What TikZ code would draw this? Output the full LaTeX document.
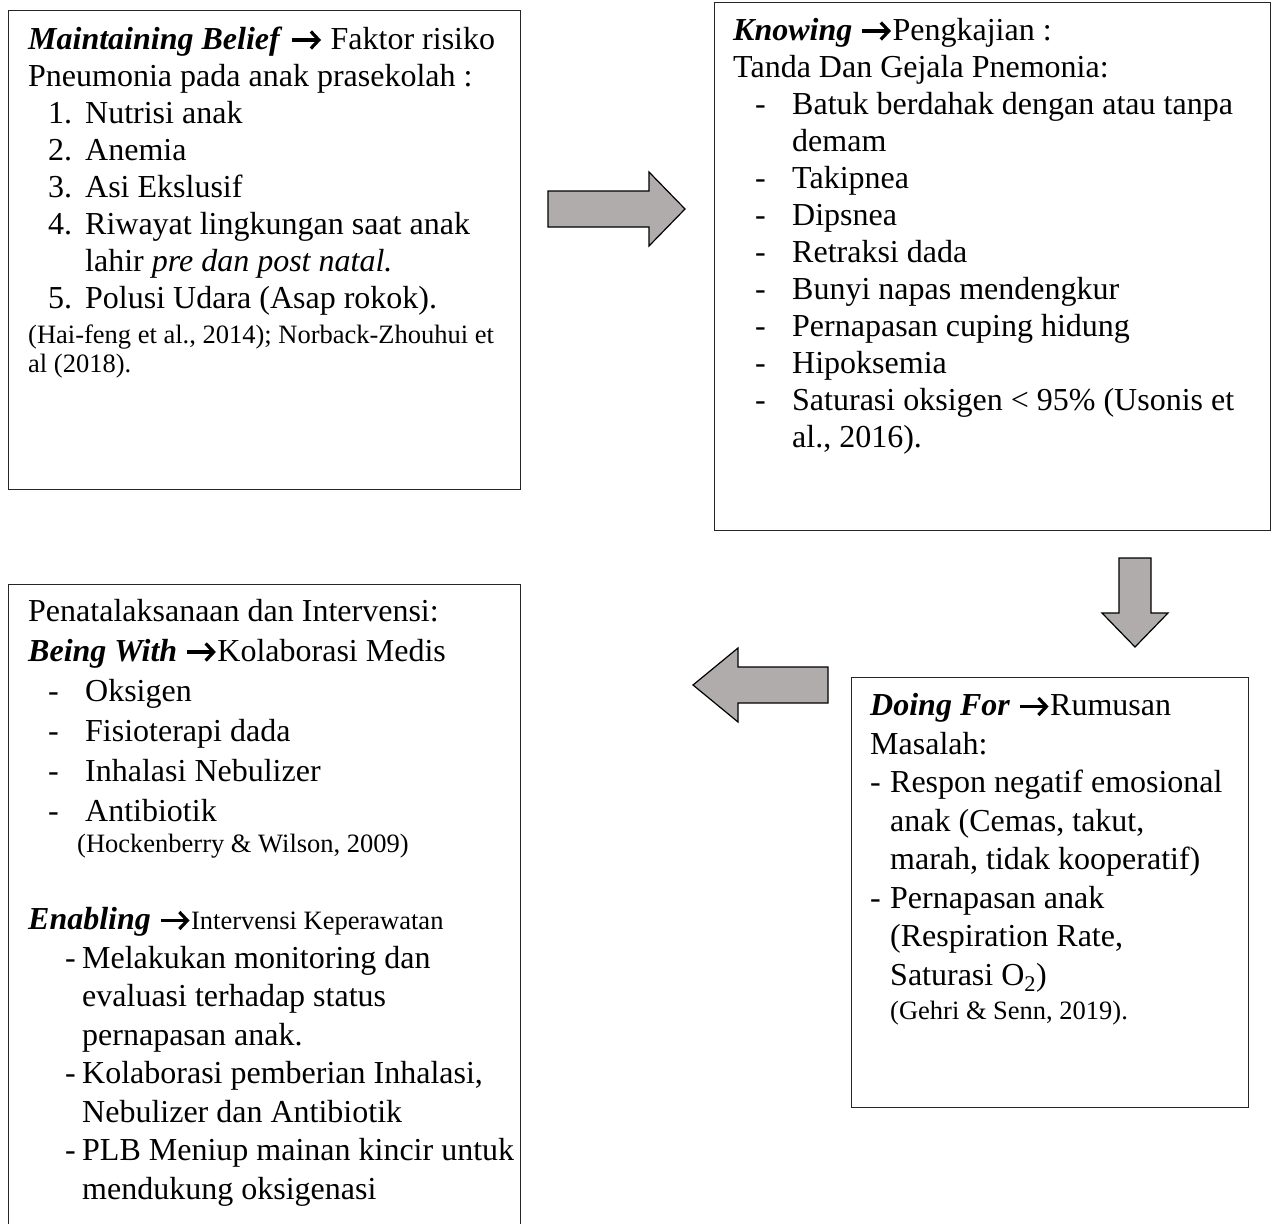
\documentclass[tikz,border=0pt]{standalone}
\usepackage{fontspec}
\usetikzlibrary{arrows.meta}
\setmainfont{Liberation Serif}
\definecolor{arrowgray}{RGB}{176,172,172}
\newcommand{\rarr}{\tikz[baseline=-9pt]\draw[line width=3.2pt, -{Straight Barb[length=8pt, width=17pt]}] (0pt,0pt) -- (29pt,0pt);}
\newcommand{\numline}[1]{\hspace*{20pt}\makebox[37pt][l]{#1}}
\newcommand{\dashline}{\hspace*{22pt}\makebox[37pt][l]{-}}
\tikzset{
    box/.style={draw=black!85, line width=1.3pt, inner sep=0pt, anchor=north west},
    % multi-line nodes: base west sits on the baseline of the last line
    maintext/.style={font=\fontsize{32}{37}\selectfont, align=left, inner sep=0pt, anchor=base west},
    citetext/.style={font=\fontsize{26.5}{29}\selectfont, align=left, inner sep=0pt, anchor=base west},
    bigarrow/.style={fill=arrowgray, draw=black, line width=1.2pt, line join=miter}
}
\begin{document}
\begin{tikzpicture}[x=1pt, y=-1pt]

    % Page frame
    \clip (0,0) rectangle (1273,1223);
    \fill[white] (0,0) rectangle (1273,1223);

    % Draw the four boxes
    \node[box, minimum width=512, minimum height=479] (belief) at (8,10) {};
    \node[box, minimum width=556, minimum height=528] (knowing) at (714,2) {};
    \node[box, minimum width=397, minimum height=430] (doing) at (851,677) {};
    \node[box, minimum width=512, minimum height=680] (being) at (8,584) {};

    % Maintaining Belief
    \node[maintext] (beliefText) at (28,308) {%
        \textbf{\textit{Maintaining Belief}} \rarr{} Faktor risiko\\
        Pneumonia pada anak prasekolah :\\
        \numline{1.}Nutrisi anak\\
        \numline{2.}Anemia\\
        \numline{3.}Asi Ekslusif\\
        \numline{4.}Riwayat lingkungan saat anak\\
        \hspace*{57pt}lahir \textit{pre dan post natal.}\\
        \numline{5.}Polusi Udara (Asap rokok).};
    \node[citetext] (beliefCite) at (28,372) {%
        (Hai-feng et al., 2014); Norback-Zhouhui et\\
        al (2018).};

    % Knowing
    \node[maintext] (knowingText) at (733,447) {%
        \textbf{\textit{Knowing}} \rarr{}Pengkajian :\\
        Tanda Dan Gejala Pnemonia:\\
        \dashline Batuk berdahak dengan atau tanpa\\
        \hspace*{59pt}demam\\
        \dashline Takipnea\\
        \dashline Dipsnea\\
        \dashline Retraksi dada\\
        \dashline Bunyi napas mendengkur\\
        \dashline Pernapasan cuping hidung\\
        \dashline Hipoksemia\\
        \dashline Saturasi oksigen < 95\% (Usonis et\\
        \hspace*{59pt}al., 2016).};

    % Doing For
    \node[maintext, font=\fontsize{32}{38.5}\selectfont] (doingText) at (870,985) {%
        \textbf{\textit{Doing For}} \rarr{}Rumusan\\
        Masalah:\\
        \makebox[20pt][l]{-}Respon negatif emosional\\
        \hspace*{20pt}anak (Cemas, takut,\\
        \hspace*{20pt}marah, tidak kooperatif)\\
        \makebox[20pt][l]{-}Pernapasan anak\\
        \hspace*{20pt}(Respiration Rate,\\
        \hspace*{20pt}Saturasi O\textsubscript{2})};
    \node[citetext] (doingCite) at (890,1019) {(Gehri \& Senn, 2019).};

    % Being With and Enabling
    \node[maintext, font=\fontsize{32}{40}\selectfont] (beingText) at (28,821) {%
        Penatalaksanaan dan Intervensi:\\
        \textbf{\textit{Being With}} \rarr{}Kolaborasi Medis\\
        \numline{-}Oksigen\\
        \numline{-}Fisioterapi dada\\
        \numline{-}Inhalasi Nebulizer\\
        \numline{-}Antibiotik};
    \node[citetext] (beingCite) at (77,852) {(Hockenberry \& Wilson, 2009)};
    \node[maintext, font=\fontsize{32}{38.5}\selectfont] (enablingText) at (28,1199) {%
        \textbf{\textit{Enabling}} \rarr{}{\fontsize{26.5}{29}\selectfont Intervensi Keperawatan}\\
        \hspace*{37pt}\makebox[17pt][l]{-}Melakukan monitoring dan\\
        \hspace*{54pt}evaluasi terhadap status\\
        \hspace*{54pt}pernapasan anak.\\
        \hspace*{37pt}\makebox[17pt][l]{-}Kolaborasi pemberian Inhalasi,\\
        \hspace*{54pt}Nebulizer dan Antibiotik\\
        \hspace*{37pt}\makebox[17pt][l]{-}PLB Meniup mainan kincir untuk\\
        \hspace*{54pt}mendukung oksigenasi};

    % Block arrows between the boxes
    \filldraw[bigarrow] (548,191) -- (649,191) -- (649,172) -- (685,209)
        -- (649,246) -- (649,227) -- (548,227) -- cycle;
    \filldraw[bigarrow] (1119,558) -- (1151,558) -- (1151,613) -- (1168,613)
        -- (1135,647) -- (1102,613) -- (1119,613) -- cycle;
    \filldraw[bigarrow] (828,667) -- (738,667) -- (738,648) -- (693,685)
        -- (738,722) -- (738,703) -- (828,703) -- cycle;

\end{tikzpicture}
\end{document}
